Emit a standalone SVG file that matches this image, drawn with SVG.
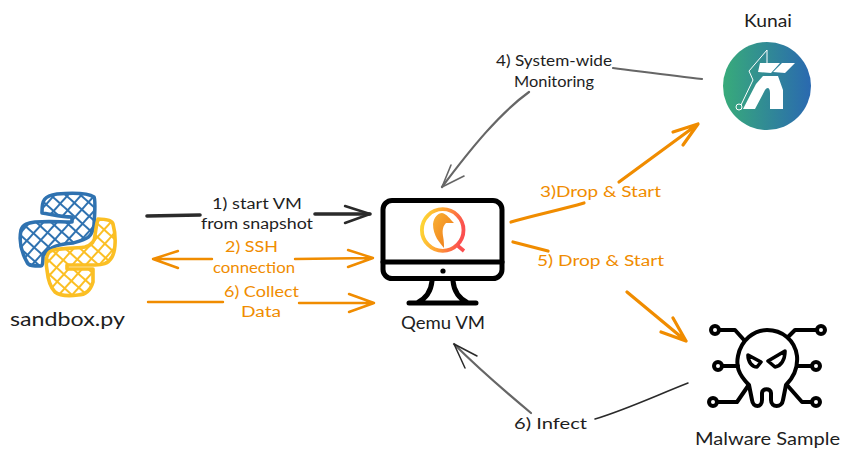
<svg xmlns="http://www.w3.org/2000/svg" width="850" height="463" viewBox="0 0 850 463">
<style>
text{font-family:"Lato","Noto Sans",sans-serif;font-size:15.5px;text-anchor:start;fill:#1e1e1e}
text.o{fill:#f08c00}
.c path{fill:none;stroke-linecap:round;stroke-linejoin:round}
.k{stroke:#2a2a2a;stroke-width:1.5}
.kt{stroke:#2b2b2b;stroke-width:3.6}
.g{stroke:#666;stroke-width:2.2}
.or{stroke:#f08c00;stroke-width:2.4}
.ot{stroke:#f08c00;stroke-width:3.2}
.blk{fill:none;stroke:#000;stroke-width:5;stroke-linecap:round;stroke-linejoin:round}
.mal{fill:none;stroke:#000;stroke-width:4;stroke-linecap:round;stroke-linejoin:round}
.nd{fill:#fff;stroke:#000;stroke-width:4}
</style>
<defs>
<pattern id="hb" width="10" height="10" patternUnits="userSpaceOnUse" patternTransform="rotate(42)"><path d="M0 1H10M1 0V10" fill="none" stroke="#2f72b0" stroke-width="2"/></pattern>
<pattern id="hy" width="10" height="10" patternUnits="userSpaceOnUse" patternTransform="rotate(42)"><path d="M0 1H10M1 0V10" fill="none" stroke="#fbbf24" stroke-width="2"/></pattern>
<linearGradient id="kg" x1="0" x2="1" y1="0" y2="0"><stop offset="0" stop-color="#38ab7a"/><stop offset="1" stop-color="#2a69b0"/></linearGradient>
<linearGradient id="qg" x1="0" x2="1" y1="0.2" y2="0.4"><stop offset="0" stop-color="#fdd835"/><stop offset="0.5" stop-color="#ffa033"/><stop offset="1" stop-color="#fb4f4f"/></linearGradient>
<linearGradient id="bg" x1="0" x2="1" y1="0" y2="1"><stop offset="0" stop-color="#f9b233"/><stop offset="1" stop-color="#ee7518"/></linearGradient>
</defs>

<g id="sandbox">
<path d="M42 212C42 200 44 196 57 194C70 193 88 193 94 197C96 200 94 224 94 225C92 238 87 239 73 243C60 244 50 246 43 256C43 265 42 266 41 266C34 266 28 266 27 262C20 250 19 240 21 230C23 224 28 223 35 222C50 221 60 222 72 222V217C62 217 50 214 42 213Z" fill="url(#hb)" stroke="#2f72b0" stroke-width="3.6" stroke-linejoin="round"/>
<path d="M98 219C105 219 112 220 113 224C116 235 116 250 112 257C108 264 102 265 95 265H67V269H93V282C90 292 84 295 78 295C70 296 60 296 55 292C50 287 48 280 47 270C45 258 47 253 51 251C56 248 70 249 85 247C92 245 95 240 95 235C96 230 96 225 98 219Z" fill="url(#hy)" stroke="#fbbf24" stroke-width="3.6" stroke-linejoin="round"/>
<text x="10" y="326" style="font-size:20px" textLength="115" lengthAdjust="spacingAndGlyphs">sandbox.py</text>
</g>

<g id="qemu">
<rect x="383" y="200.5" width="119" height="78" rx="9" class="blk"/>
<path d="M383 262H502" class="blk"/>
<circle cx="443" cy="271" r="2.6" fill="#000"/>
<path d="M432 281C431 292 425 299 417 303M453 281C454 292 460 299 468 303M409 303H476" class="blk"/>
<circle cx="442.7" cy="230" r="20.8" fill="none" stroke="url(#qg)" stroke-width="3.8"/>
<path d="M458 246L464 251" fill="none" stroke="#fb4f4f" stroke-width="3.6"/>
<path d="M433 224C434 217 438 213 442 213C447 214 450 219 454 223L446 223C443 226 442 230 443 236C444 241 444 245 444 248C440 243 433 236 433 224Z" fill="url(#bg)"/>
<text x="401" y="329" style="font-size:17px" textLength="84" lengthAdjust="spacingAndGlyphs">Qemu VM</text>
</g>

<g id="kunai">
<circle cx="767" cy="86" r="44" fill="url(#kg)"/>
<path d="M760 63H780L771 73L758 72ZM782 63H795L785 73L773 72ZM763 76H778L783 90V109H770V93C770 87 767 87 765 90L755 109H743L756 84Z" fill="#fff"/>
<path d="M741 105L753 80L749 71L767 50V63" fill="none" stroke="#fff" stroke-width="1"/>
<circle cx="739" cy="107" r="3" fill="none" stroke="#fff" stroke-width="1"/>
<text x="744" y="27" style="font-size:17px" textLength="48" lengthAdjust="spacingAndGlyphs">Kunai</text>
</g>

<g id="malware">
<path d="M749 385C738 374 736 366 738 356C741 340 754 330 767 330C782 330 795 340 797 356C798 367 795 376 786 385L783 400C782 408 771 408 771 400V393C771 388 762 388 762 393V400C762 408 753 408 752 400Z" class="mal"/>
<path d="M748 355L761 362L757 367C752 367 748 362 748 355ZM785 351L768 361L775 367C781 366 785 360 785 351Z" fill="none" stroke="#000" stroke-width="3.6" stroke-linejoin="round"/>
<path d="M719 330H735L744 340M817 330H795L788 337M722 366H738M812 366H797M717 402H737L748 386M812 402H802L787 385" class="mal"/>
<circle cx="715" cy="330" r="4" class="nd"/><circle cx="821" cy="330" r="4" class="nd"/><circle cx="718" cy="366" r="4" class="nd"/><circle cx="816" cy="366" r="4" class="nd"/><circle cx="713" cy="402" r="4" class="nd"/><circle cx="816" cy="402" r="4" class="nd"/>
<text x="695" y="445" style="font-size:18px" textLength="145" lengthAdjust="spacingAndGlyphs">Malware Sample</text>
</g>

<g id="connectors" class="c">
<path class="kt" d="M147 216L200 215M315 214L370 214"/>
<path class="k" style="stroke-width:2.4" d="M345 206L370 214L345 223"/>
<path class="or" d="M212 259H153M178 251L153 259L178 268M295 259L373 258M348 250L373 258L348 267"/>
<path class="or" d="M148 302L223 302M299 303H374M349 294L374 303L349 312"/>
<path class="g" d="M613 68C645 72 675 76 702 79M529 92C500 113 472 147 442 187"/>
<path class="g" style="stroke-width:1.6" d="M451 165L442 187L464 176"/>
<path class="ot" d="M511 222C535 215 560 210 584 203M619 182L698 124M673 132L698 124L683 145"/>
<path class="ot" d="M513 242L548 251M627 292L686 341M673 318L686 341L661 332"/>
<path class="k" d="M688 383C655 396 625 410 595 419"/>
<path class="g" d="M531 413C507 393 481 371 454 344"/>
<path class="k" d="M477 356L454 344L465 368"/>
</g>

<g id="labels">
<text x="212" y="209" textLength="90" lengthAdjust="spacingAndGlyphs">1) start VM</text>
<text x="201" y="229" textLength="112" lengthAdjust="spacingAndGlyphs">from snapshot</text>
<text class="o" x="225" y="252" textLength="53" lengthAdjust="spacingAndGlyphs">2) SSH</text>
<text class="o" x="213" y="273" textLength="82" lengthAdjust="spacingAndGlyphs">connection</text>
<text class="o" x="224" y="297" textLength="75" lengthAdjust="spacingAndGlyphs">6) Collect</text>
<text class="o" x="241" y="317" textLength="40" lengthAdjust="spacingAndGlyphs">Data</text>
<text x="496" y="66" textLength="116" lengthAdjust="spacingAndGlyphs">4) System-wide</text>
<text x="514" y="87" textLength="80" lengthAdjust="spacingAndGlyphs">Monitoring</text>
<text class="o" x="540" y="197" textLength="121" lengthAdjust="spacingAndGlyphs">3)Drop &amp; Start</text>
<text class="o" x="537" y="266" textLength="127" lengthAdjust="spacingAndGlyphs">5) Drop &amp; Start</text>
<text x="514" y="429" textLength="73" lengthAdjust="spacingAndGlyphs">6) Infect</text>
</g>
</svg>
